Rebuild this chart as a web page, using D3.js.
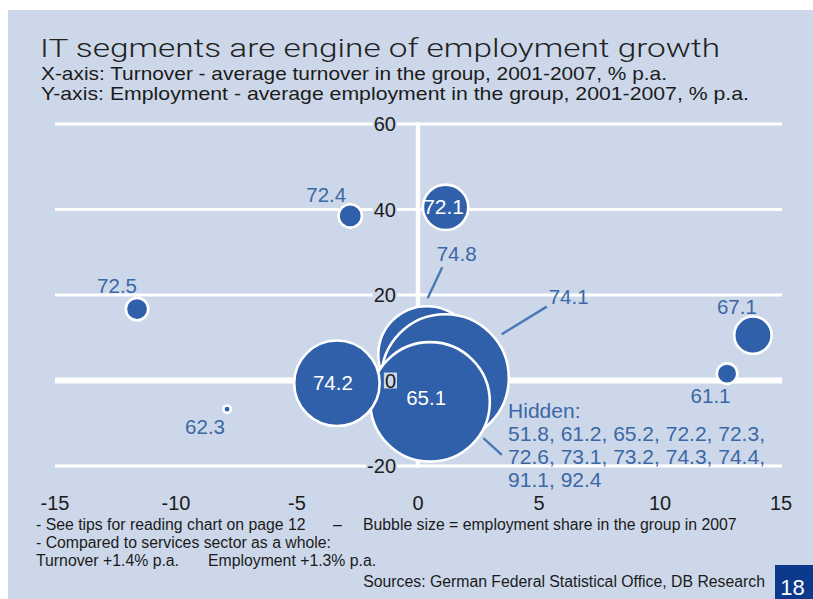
<!DOCTYPE html>
<html>
<head>
<meta charset="utf-8">
<script src="https://cdn.jsdelivr.net/npm/d3@7"></script>
<style>
  html, body { margin: 0; padding: 0; background: #ffffff; }
  svg { display: block; }
</style>
</head>
<body>
<svg id="chart" width="813" height="599"></svg>
<script>
// ---- Data ------------------------------------------------------------
// Segment labels, in drawing order (back to front)
const segments   = ["72.4", "72.5", "62.3", "61.1", "67.1", "72.1", "74.8", "74.1", "65.1", "74.2"];
// Turnover: average turnover growth 2001-2007, % p.a. (x)
const turnover   = [-2.80, -11.61, -7.89, 12.77, 13.84, 1.14, 0.37, 1.12, 0.50, -3.35];
// Employment: average employment growth 2001-2007, % p.a. (y)
const employment = [38.5, 16.7, -6.7, 1.6, 10.6, 40.5, 6.0, 0.6, -5.0, -0.65];
// Employment share in the group in 2007, % (bubble area)
const share      = [0.81, 0.74, 0.08, 0.62, 2.07, 3.05, 14.0, 24.0, 21.1, 10.8];
// Segments whose bubbles are covered by the large ones
const hiddenSegments = ["51.8", "61.2", "65.2", "72.2", "72.3", "72.6", "73.1", "73.2", "74.3", "74.4", "91.1", "92.4"];

const xTicks = [-15, -10, -5, 0, 5, 10, 15];
const yTicks = [-20, 0, 20, 40, 60];

// ---- Layout ----------------------------------------------------------
const W = 813, H = 599;
const colors = {
  panel: "#ccd7e9",
  bubble: "#3160ab",
  label: "#3b68a5",
  leader: "#4a78b6",
  text: "#1b1b1b",
  pageBox: "#0b3a8d"
};
const FONT = "'Liberation Sans', Arial, Helvetica, sans-serif";

// label placement relative to each bubble centre (px)
const labelLayout = {
  "72.4": { dx: -24, dy: -14 },
  "72.5": { dx: -20, dy: -16 },
  "62.3": { dx: -22, dy: 25 },
  "61.1": { dx: -16.5, dy: 29 },
  "67.1": { dx: -16, dy: -21 },
  "72.1": { dx: -2, dy: 6.5, inside: true },
  "74.8": { dx: 29.7, dy: -94.3, leader: [0.7, -56.7, 15.3, -87.7] },
  "74.1": { dx: 123.5, dy: -74, leader: [56.7, -43.7, 101.7, -71.3] },
  "65.1": { dx: -4, dy: 3, inside: true },
  "74.2": { dx: -4, dy: 7, inside: true }
};
const hiddenLayout = { anchor: "65.1", leader: [53.3, 36.3, 71.7, 53], x: 78, y: 16, step: 23, perLine: 5 };

// plain hyphen for negative tick values
const fmt = v => String(v);

const svg = d3.select("#chart");

// background panel
svg.append("rect").attr("x", 8).attr("y", 10).attr("width", W - 8).attr("height", H - 10)
  .attr("fill", colors.panel);

// ---- Scales ----------------------------------------------------------
const x = d3.scaleLinear().domain([-15, 15]).range([55, 781]);
const y = d3.scaleLinear().domain([-20, 60]).range([466, 124]);
const r = d3.scaleSqrt().domain([0, 25]).range([0, 65]);

// ---- Header ----------------------------------------------------------
svg.append("text")
  .attr("x", 40).attr("y", 57)
  .attr("font-family", "Roboto, 'DejaVu Sans', sans-serif")
  .attr("font-weight", 300)
  .attr("font-size", 26.5)
  .attr("fill", "#222")
  .attr("textLength", 680).attr("lengthAdjust", "spacingAndGlyphs")
  .text("IT segments are engine of employment growth");

svg.append("text")
  .attr("x", 41).attr("y", 80)
  .attr("font-family", FONT).attr("font-size", 19).attr("fill", colors.text)
  .attr("textLength", 626).attr("lengthAdjust", "spacingAndGlyphs")
  .text("X-axis: Turnover - average turnover in the group, 2001-2007, % p.a.");

svg.append("text")
  .attr("x", 41).attr("y", 99.5)
  .attr("font-family", FONT).attr("font-size", 19).attr("fill", colors.text)
  .attr("textLength", 708).attr("lengthAdjust", "spacingAndGlyphs")
  .text("Y-axis: Employment - average employment in the group, 2001-2007, % p.a.");

// ---- Grid ------------------------------------------------------------
const grid = svg.append("g");
grid.selectAll("line.h").data(yTicks).join("line")
  .attr("x1", x(-15)).attr("x2", x(15) + 1)
  .attr("y1", d => y(d)).attr("y2", d => y(d))
  .attr("stroke", "#fff")
  .attr("stroke-width", d => d === 0 ? 6 : 3);

grid.append("line")
  .attr("x1", x(0)).attr("x2", x(0))
  .attr("y1", y(60) - 1.5).attr("y2", y(-20) + 1.5)
  .attr("stroke", "#fff").attr("stroke-width", 4.5);

// ---- Bubbles ---------------------------------------------------------
const points = segments.map((s, i) => ({
  name: s, tx: turnover[i], ey: employment[i], share: share[i],
  cx: x(turnover[i]), cy: y(employment[i]), rad: r(share[i])
}));

svg.append("g").selectAll("circle").data(points).join("circle")
  .attr("cx", d => d.cx).attr("cy", d => d.cy).attr("r", d => d.rad)
  .attr("fill", colors.bubble)
  .attr("stroke", "#fff").attr("stroke-width", 2.6);

// leader lines
const leaders = svg.append("g").attr("stroke", colors.leader).attr("stroke-width", 2.4);
points.filter(d => labelLayout[d.name].leader).forEach(d => {
  const l = labelLayout[d.name].leader;
  leaders.append("line")
    .attr("x1", d.cx + l[0]).attr("y1", d.cy + l[1])
    .attr("x2", d.cx + l[2]).attr("y2", d.cy + l[3]);
});

// bubble labels
svg.append("g").selectAll("text").data(points).join("text")
  .attr("x", d => d.cx + labelLayout[d.name].dx)
  .attr("y", d => d.cy + labelLayout[d.name].dy)
  .attr("text-anchor", "middle")
  .attr("font-family", FONT)
  .attr("font-size", d => d.name === "72.1" ? 21 : 20.5)
  .attr("fill", d => labelLayout[d.name].inside ? "#fff" : colors.label)
  .text(d => d.name);

// hidden segments note
const anchor = points.find(d => d.name === hiddenLayout.anchor);
const hl = hiddenLayout.leader;
leaders.append("line")
  .attr("x1", anchor.cx + hl[0]).attr("y1", anchor.cy + hl[1])
  .attr("x2", anchor.cx + hl[2]).attr("y2", anchor.cy + hl[3]);

const hiddenLines = ["Hidden:"];
for (let i = 0; i < hiddenSegments.length; i += hiddenLayout.perLine) {
  const chunk = hiddenSegments.slice(i, i + hiddenLayout.perLine);
  const last = i + hiddenLayout.perLine >= hiddenSegments.length;
  hiddenLines.push(chunk.join(", ") + (last ? "" : ","));
}
svg.append("g").selectAll("text").data(hiddenLines).join("text")
  .attr("x", anchor.cx + hiddenLayout.x)
  .attr("y", (d, i) => anchor.cy + hiddenLayout.y + i * hiddenLayout.step)
  .attr("font-family", FONT).attr("font-size", 21)
  .attr("fill", colors.label)
  .text(d => d);

// ---- Axis labels -----------------------------------------------------
// y labels sit on the zero line with a panel-coloured backing
const yLab = svg.append("g");
yTicks.forEach(v => {
  const t = yLab.append("text")
    .attr("x", x(0) - 22).attr("y", y(v) + 7)
    .attr("text-anchor", "end")
    .attr("font-family", FONT).attr("font-size", 20)
    .attr("fill", colors.text)
    .text(fmt(v));
  const bb = t.node().getBBox();
  yLab.insert("rect", () => t.node())
    .attr("x", bb.x - 1).attr("y", y(v) - 8)
    .attr("width", bb.width + 2).attr("height", 16)
    .attr("fill", colors.panel);
});

svg.append("g").selectAll("text").data(xTicks).join("text")
  .attr("x", d => x(d)).attr("y", 510)
  .attr("text-anchor", "middle")
  .attr("font-family", FONT).attr("font-size", 20)
  .attr("fill", colors.text)
  .text(d => fmt(d));

// ---- Notes -----------------------------------------------------------
const notes = svg.append("g").attr("font-family", FONT).attr("font-size", 15.8).attr("fill", colors.text);
notes.append("text").attr("x", 36).attr("y", 530).text("- See tips for reading chart on page 12");
notes.append("text").attr("x", 333).attr("y", 530).text("\u2013");
notes.append("text").attr("x", 363).attr("y", 530).text("Bubble size = employment share in the group in 2007");
notes.append("text").attr("x", 36).attr("y", 548).text("- Compared to services sector as a whole:");
notes.append("text").attr("x", 36).attr("y", 566).text("Turnover +1.4% p.a.");
notes.append("text").attr("x", 208).attr("y", 566).text("Employment +1.3% p.a.");
notes.append("text").attr("x", 765).attr("y", 587).attr("text-anchor", "end")
  .text("Sources: German Federal Statistical Office, DB Research");

// page number
svg.append("rect").attr("x", 775).attr("y", 565).attr("width", 38).attr("height", 34)
  .attr("fill", colors.pageBox);
svg.append("text").attr("x", 792.5).attr("y", 595)
  .attr("text-anchor", "middle")
  .attr("font-family", FONT).attr("font-size", 22).attr("fill", "#fff")
  .text("18");
</script>
</body>
</html>
